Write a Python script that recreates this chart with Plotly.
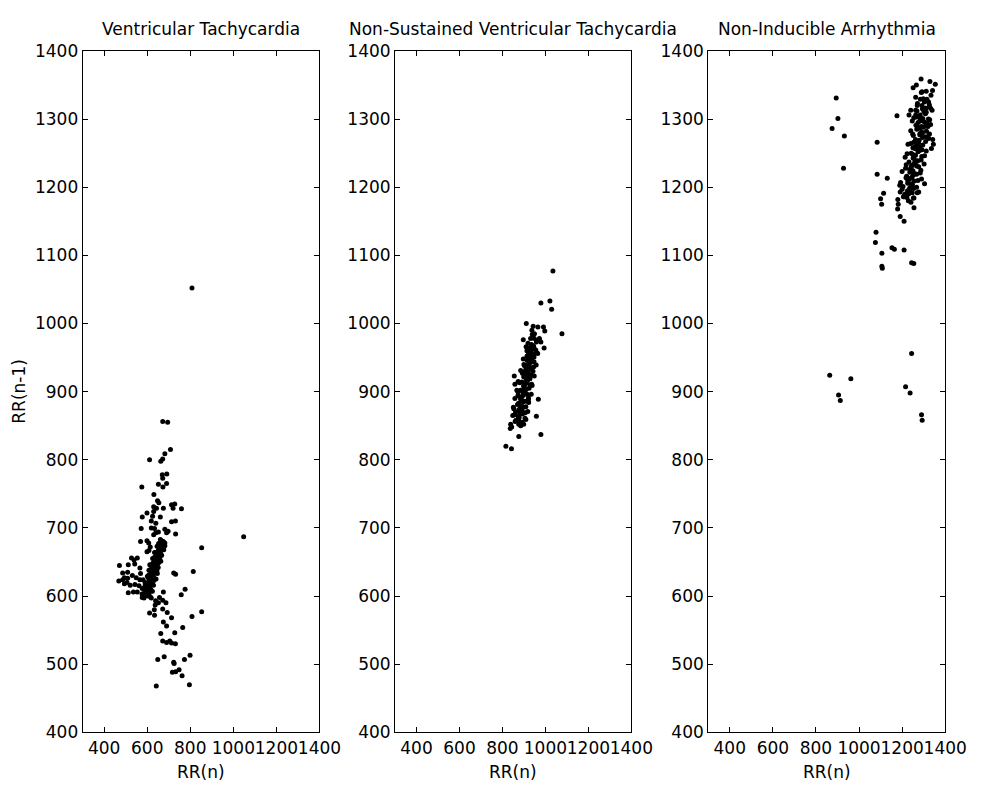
import plotly.graph_objects as go

# ---------------- data ----------------
titles = ["Ventricular Tachycardia",
          "Non-Sustained Ventricular Tachycardia",
          "Non-Inducible Arrhythmia"]
x_ticks = [400, 600, 800, 1000, 1200, 1400]
y_ticks = [400, 500, 600, 700, 800, 900, 1000, 1100, 1200, 1300, 1400]

# Panel 1 : Ventricular Tachycardia
vt_outer_x = [672, 695, 708, 682, 663, 672, 611, 670, 691, 672, 652, 673, 690, 575, 631, 648, 654,
              713, 728, 720, 759, 630, 643, 675, 630, 577, 599, 625, 661, 619, 640, 713, 731, 572,
              619, 634, 640, 652, 630, 682, 697, 690, 732, 569, 599, 607, 614, 608, 599, 672, 675,
              682, 663, 645, 634, 1048, 808, 853, 814, 776, 758, 723, 732, 853, 808, 765, 728]
vt_outer_y = [856, 855, 815, 809, 798, 801, 800, 778, 779, 773, 764, 760, 765, 760, 749, 740, 737,
              734, 735, 729, 728, 731, 729, 729, 724, 716, 722, 717, 716, 710, 707, 709, 710, 699,
              700, 699, 693, 694, 690, 698, 695, 693, 691, 680, 681, 678, 672, 667, 665, 680, 676,
              674, 669, 662, 657, 687, 1052, 671, 636, 610, 602, 634, 632, 577, 570, 554, 546]
vt_left_x = [471, 486, 468, 494, 512, 536, 509, 509, 531, 527, 554, 539, 549, 566, 566, 569, 581,
             562, 554, 577, 592, 486, 521, 543, 542, 512, 494, 506]
vt_left_y = [645, 634, 622, 618, 605, 606, 626, 635, 630, 656, 656, 653, 627, 624, 641, 633, 624,
             615, 606, 611, 616, 624, 616, 617, 647, 646, 627, 620]
vt_low_x = [619, 639, 657, 675, 637, 652, 672, 687, 633, 672, 693, 611, 634, 713, 675, 690, 663,
            672, 690, 713, 731, 705, 649, 679, 723, 725, 773, 799, 717, 732, 748, 762, 642, 796]
vt_low_y = [597, 593, 598, 606, 587, 590, 594, 590, 580, 581, 576, 575, 572, 568, 562, 556, 545,
            534, 532, 531, 530, 534, 507, 511, 503, 501, 507, 513, 488, 489, 492, 483, 468, 470]
vt_core_x = [577, 597, 607, 593, 616, 599, 611, 593, 611, 590, 622, 611, 604, 623, 612, 632,
             605, 626, 622, 614, 637, 623, 645, 615, 636, 643, 627, 638, 626, 653, 636, 650,
             635, 648, 660, 643, 656, 644, 663, 654, 670, 654, 667, 653, 676, 667,
             602, 587, 599, 588, 616, 601, 615, 600, 616, 631, 612, 629, 608, 629, 626, 642,
             622, 640, 632, 648, 632, 644, 658, 633, 652, 649, 662, 649, 660, 675, 658, 674,
             596, 607, 608, 620, 622, 634, 637, 649, 651, 661, 585, 590,
             614, 576, 624, 585, 629, 590, 641, 601, 647, 608, 651, 612, 663, 625, 667, 634,
             677, 646, 682, 661,
             592, 606, 603, 614, 612, 624, 621, 633, 630, 644, 640, 652, 652, 667]
vt_core_y = [598, 601, 603, 606, 607, 609, 611, 612, 614, 615, 617, 619, 620, 622, 624, 625,
             627, 629, 630, 632, 634, 635, 637, 639, 641, 642, 644, 646, 648, 649, 651, 653,
             655, 657, 658, 660, 662, 664, 666, 668, 670, 672, 675, 677, 679, 681,
             600, 602, 605, 608, 610, 613, 616, 618, 621, 623, 626, 628, 631, 633, 636, 638,
             640, 643, 645, 647, 650, 652, 654, 656, 659, 661, 663, 665, 669, 673, 676, 680,
             604, 612, 619, 627, 633, 640, 648, 656, 664, 671, 597, 603,
             599, 603, 607, 611, 616, 620, 625, 629, 633, 638, 642, 646, 651, 655, 660, 664,
             668, 673, 678, 683,
             602, 609, 614, 618, 623, 628, 632, 637, 643, 650, 654, 658, 667, 674]

# Panel 2 : Non-Sustained Ventricular Tachycardia
nsvt_outer_x = [1035, 979, 1021, 1029, 911, 943, 991, 997, 1077, 897, 931, 949, 972, 979, 994,
                855, 858, 967, 958, 899, 979, 816, 842, 876, 836]
nsvt_outer_y = [1077, 1030, 1033, 1021, 1000, 996, 995, 989, 985, 976, 978, 985, 978, 973, 964,
                923, 911, 889, 864, 852, 837, 820, 816, 834, 846]
nsvt_core_x = [843, 876, 892, 863, 905, 874, 893, 861, 891, 853, 909, 887, 875, 907, 885, 921,
               872, 908, 901, 884, 924, 899, 936, 880, 915, 928, 899, 917, 893, 942, 909, 933,
               903, 925, 947, 915, 937, 914, 945, 928, 955, 924, 945, 919, 959, 942,
               885, 859, 878, 856, 906, 876, 898, 870, 895, 921, 883, 915, 873, 910, 901, 928,
               891, 920, 906, 934, 902, 922, 945, 900, 931, 925, 947, 920, 960, 914, 946, 935,
               958, 939,
               873, 886, 890, 897, 904, 908, 912, 917, 921, 928, 932, 937, 880, 895, 909,
               838, 909, 848, 918, 851, 922, 858, 934, 867, 938, 873, 948, 885, 957, 897, 964,
               910, 970, 937, 965,
               877, 884, 882, 892, 892, 902, 900, 912, 910, 920, 921, 930, 930, 942, 948]
nsvt_core_y = [848, 852, 855, 858, 861, 864, 867, 870, 872, 875, 878, 880, 883, 886, 889, 891,
               894, 897, 900, 902, 905, 908, 911, 913, 916, 919, 922, 924, 927, 930, 933, 935,
               938, 941, 944, 946, 949, 952, 955, 958, 961, 964, 967, 971, 975, 980,
               850, 856, 862, 866, 869, 873, 877, 881, 885, 888, 892, 896, 899, 903, 907, 910,
               914, 918, 921, 925, 929, 932, 936, 940, 943, 947, 951, 954, 957, 960, 965, 969,
               973, 984,
               860, 874, 887, 895, 904, 912, 920, 928, 937, 945, 953, 962, 870, 900, 926,
               852, 859, 865, 871, 877, 884, 890, 896, 902, 909, 915, 923, 931, 939, 948, 956,
               966, 976, 990, 995,
               857, 868, 876, 884, 893, 901, 909, 917, 924, 933, 941, 950, 958, 967, 978]

# Panel 3 : Non-Inducible Arrhythmia
nia_outer_x = [894, 902, 875, 932, 928, 1084, 1084, 1131, 1114, 1100, 1105, 1176, 1179, 1191,
               1209, 1191, 1209, 1214, 1247, 1255, 1235, 1304, 1079, 1076, 1106, 1153, 1164,
               1209, 1288, 1329, 1354, 1341, 1251, 1266, 1289, 1312, 1263, 1285, 1315, 1323,
               1270, 1292, 1308, 1240, 1263, 1301, 1332, 1232, 1263, 1285, 1315, 1247, 1270,
               1320, 1327, 1342, 1345, 1336, 1323]
nia_outer_y = [1331, 1301, 1286, 1275, 1228, 1266, 1219, 1213, 1191, 1183, 1175, 1305, 1168,
               1157, 1150, 1193, 1186, 1190, 1192, 1184, 1199, 1205, 1134, 1119, 1103, 1111,
               1109, 1108, 1359, 1355, 1351, 1342, 1346, 1350, 1339, 1341, 1332, 1329, 1329,
               1325, 1320, 1320, 1316, 1313, 1313, 1311, 1316, 1306, 1306, 1301, 1294, 1297,
               1289, 1289, 1278, 1270, 1263, 1257, 1272]
nia_low_x = [1106, 1108, 1244, 1254, 1244, 864, 962, 905, 913, 1216, 1237, 1290, 1293]
nia_low_y = [1084, 1081, 1089, 1088, 956, 924, 919, 895, 887, 907, 898, 866, 858]
nia_core_x = [1182, 1229, 1252, 1210, 1270, 1225, 1253, 1204, 1248, 1193, 1273, 1241, 1221, 1267,
              1236, 1287, 1216, 1267, 1256, 1232, 1288, 1251, 1304, 1223, 1274, 1292, 1250, 1274,
              1240, 1309, 1262, 1295, 1252, 1283, 1313, 1268, 1299, 1264, 1310, 1283, 1322, 1277,
              1308, 1269, 1327, 1303,
              1241, 1206, 1230, 1200, 1267, 1226, 1256, 1218, 1252, 1284, 1235, 1277, 1219, 1269,
              1255, 1291, 1242, 1281, 1259, 1296, 1254, 1279, 1311, 1249, 1291, 1282, 1310, 1274,
              1328, 1269, 1312, 1294, 1326, 1298,
              1222, 1235, 1240, 1246, 1250, 1258, 1262, 1268, 1276, 1282, 1290, 1296, 1232, 1244,
              1262,
              1255, 1180, 1277, 1189, 1290, 1200, 1302, 1214, 1312, 1227, 1322, 1240, 1332, 1254,
              1339, 1271, 1334, 1292,
              1220, 1246, 1226, 1258, 1242, 1272, 1250, 1282, 1266, 1294, 1272, 1302, 1284, 1310,
              1312]
nia_core_y = [1175, 1180, 1184, 1188, 1192, 1195, 1198, 1201, 1204, 1207, 1210, 1213, 1216, 1219,
              1222, 1225, 1228, 1231, 1234, 1237, 1240, 1243, 1246, 1249, 1252, 1255, 1258, 1261,
              1264, 1267, 1270, 1273, 1276, 1279, 1282, 1285, 1288, 1291, 1294, 1297, 1300, 1304,
              1308, 1312, 1318, 1325,
              1178, 1186, 1190, 1197, 1200, 1206, 1209, 1214, 1218, 1221, 1226, 1230, 1233, 1238,
              1242, 1245, 1250, 1254, 1257, 1262, 1266, 1269, 1274, 1278, 1281, 1287, 1290, 1295,
              1299, 1303, 1310, 1315, 1321, 1330,
              1185, 1196, 1205, 1215, 1224, 1236, 1247, 1256, 1265, 1277, 1289, 1301, 1212, 1232,
              1260,
              1170, 1182, 1193, 1203, 1212, 1223, 1234, 1244, 1253, 1263, 1272, 1283, 1292, 1302,
              1313, 1323, 1335, 1340,
              1190, 1200, 1210, 1220, 1229, 1239, 1248, 1259, 1268, 1279, 1286, 1296, 1306, 1316,
              1328]

panels = [
    (vt_outer_x + vt_left_x + vt_low_x + vt_core_x, vt_outer_y + vt_left_y + vt_low_y + vt_core_y),
    (nsvt_outer_x + nsvt_core_x, nsvt_outer_y + nsvt_core_y),
    (nia_outer_x + nia_low_x + nia_core_x, nia_outer_y + nia_low_y + nia_core_y),
]

# ---------------- figure ----------------
W, H = 990, 794
FONT = "DejaVu Sans"
FS = 17
x_domains = [(84.5 / W, 326.7 / W), (404.0 / W, 645.7 / W), (724.3 / W, 966.7 / W)]
y_domain = (1 - 741 / H, 1 - 42 / H)

fig = go.Figure()
layout = dict(
    width=W, height=H, autosize=False,
    margin=dict(l=0, r=0, t=0, b=0),
    paper_bgcolor="white", plot_bgcolor="white",
    showlegend=False,
    font=dict(family=FONT, size=FS, color="black"),
)
annotations = []
for i, (xs, ys) in enumerate(panels):
    xa = "x" if i == 0 else f"x{i+1}"
    ya = "y" if i == 0 else f"y{i+1}"
    fig.add_trace(go.Scatter(x=xs, y=ys, mode="markers", xaxis=xa, yaxis=ya,
                             marker=dict(color="black", size=5, line=dict(width=0)),
                             hoverinfo="x+y"))
    axis_common = dict(showline=True, linecolor="black", linewidth=1, mirror="ticks",
                       ticks="inside", ticklen=5, tickcolor="black", tickwidth=1,
                       showgrid=False, zeroline=False,
                       tickfont=dict(family=FONT, size=FS, color="black"))
    layout["xaxis" if i == 0 else f"xaxis{i+1}"] = dict(
        axis_common, domain=list(x_domains[i]), range=[300, 1400],
        tickmode="array", tickvals=x_ticks, ticktext=[str(v) for v in x_ticks],
        tickangle=0, anchor=ya)
    layout["yaxis" if i == 0 else f"yaxis{i+1}"] = dict(
        axis_common, domain=list(y_domain), range=[400, 1400],
        tickmode="array", tickvals=y_ticks, ticktext=[str(v) for v in y_ticks],
        anchor=xa)
    cx = (x_domains[i][0] + x_domains[i][1]) / 2
    annotations.append(dict(text=titles[i], x=cx, y=1 - 20 / H, xref="paper", yref="paper",
                            xanchor="center", yanchor="middle", showarrow=False,
                            font=dict(family=FONT, size=FS, color="black")))
    annotations.append(dict(text="RR(n)", x=cx, y=1 - 782 / H, xref="paper", yref="paper",
                            xanchor="center", yanchor="middle", showarrow=False,
                            font=dict(family=FONT, size=FS, color="black")))
annotations.append(dict(text="RR(n-1)", x=20 / W, y=1 - 391 / H, xref="paper", yref="paper",
                        xanchor="center", yanchor="middle", textangle=-90, showarrow=False,
                        font=dict(family=FONT, size=FS, color="black")))
layout["annotations"] = annotations
fig.update_layout(**layout)

fig.write_html("out.html", config={"displayModeBar": False},
               post_script="document.body.style.margin='0px';")
